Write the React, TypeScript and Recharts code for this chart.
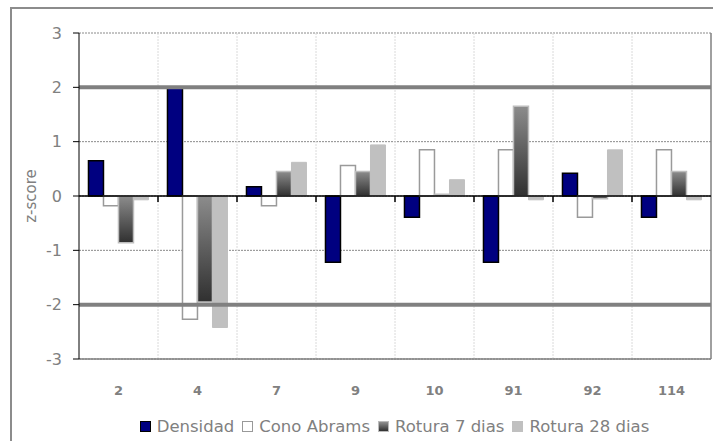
import {
  Bar,
  BarChart,
  CartesianGrid,
  Legend,
  ReferenceLine,
  XAxis,
  YAxis,
} from "recharts";

const categories = ["2", "4", "7", "9", "10", "91", "92", "114"];
const densidad = [0.65, 2.0, 0.17, -1.22, -0.39, -1.22, 0.42, -0.39];
const conoAbrams = [-0.18, -2.27, -0.18, 0.56, 0.85, 0.85, -0.39, 0.85];
const rotura7 = [-0.86, -1.95, 0.45, 0.45, 0.03, 1.65, -0.05, 0.45];
const rotura28 = [-0.07, -2.42, 0.62, 0.94, 0.3, -0.07, 0.85, -0.07];
const yTicks = [-3, -2, -1, 0, 1, 2, 3];
const limits = [-2, 2];

const FONT = "'DejaVu Sans', sans-serif";
const GREY = "#808080";

const rows = categories.map((name, i) => ({
  name,
  densidad: densidad[i],
  cono: conoAbrams[i],
  r7: rotura7[i],
  r28: rotura28[i],
}));

const legendItems = [
  { label: "Densidad", style: { background: "#000080", border: "1px solid #000" } },
  { label: "Cono Abrams", style: { background: "#fff", border: "1px solid #999" } },
  {
    label: "Rotura 7 dias",
    style: { background: "linear-gradient(#909090, #303030)", border: "1px solid #bbb" },
  },
  { label: "Rotura 28 dias", style: { background: "#c0c0c0", border: "1px solid #c0c0c0" } },
];

function LegendBox() {
  return (
    <div
      style={{
        display: "flex",
        justifyContent: "center",
        alignItems: "center",
        height: 22,
        fontFamily: FONT,
        fontSize: 16.5,
        color: GREY,
        paddingLeft: 86,
      }}
    >
      {legendItems.map((it) => (
        <span key={it.label} style={{ display: "flex", alignItems: "center", marginRight: 8 }}>
          <span
            style={{ width: 11, height: 11, boxSizing: "border-box", marginRight: 6, ...it.style }}
          />
          {it.label}
        </span>
      ))}
    </div>
  );
}

export default function App() {
  const inner = categories.slice(1);
  return (
    <div
      style={{
        position: "fixed",
        left: 0,
        top: 0,
        width: 713,
        height: 441,
        overflow: "hidden",
        background: "#fff",
      }}
    >
      <div
        style={{
          position: "absolute",
          left: 10,
          top: 7,
          width: 740,
          height: 480,
          border: "2px solid #8c8c8c",
        }}
      />
      <div style={{ position: "absolute", left: 0, top: 0 }}>
        <BarChart
          width={713}
          height={441}
          data={rows}
          margin={{ top: 33, right: 2, bottom: 4, left: 0 }}
          barCategoryGap="12%"
          barGap={0}
        >
          <defs>
            <linearGradient id="grad7" x1="0" y1="0" x2="0" y2="1">
              <stop offset="0%" stopColor="#8c8c8c" />
              <stop offset="100%" stopColor="#303030" />
            </linearGradient>
          </defs>
          <CartesianGrid vertical={false} stroke="#8a8a8a" strokeDasharray="2 1" />
          <XAxis
            dataKey="name"
            height={56}
            axisLine={false}
            tickLine={false}
            tickSize={0}
            tickMargin={27}
            tick={{ fill: GREY, fontSize: 13, fontWeight: "bold", fontFamily: FONT }}
          />
          <YAxis
            domain={[-3, 3]}
            ticks={yTicks}
            width={79}
            stroke="#000"
            tickSize={6}
            tickMargin={11}
            tick={{ fill: GREY, fontSize: 16, fontFamily: FONT }}
            label={{
              value: "z-score",
              angle: -90,
              position: "insideLeft",
              offset: 31,
              style: { textAnchor: "middle", fill: GREY, fontSize: 15, fontFamily: FONT },
            }}
          />
          {inner.map((c) => (
            <ReferenceLine
              key={"v" + c}
              x={c}
              position="start"
              stroke="#dadada"
              strokeDasharray="2 1"
            />
          ))}
          <ReferenceLine
            x={categories[categories.length - 1]}
            position="end"
            stroke={GREY}
            strokeWidth={1.5}
          />
          <ReferenceLine y={-3} stroke={GREY} strokeWidth={1.5} />
          <Bar dataKey="densidad" name="Densidad" fill="#000080" stroke="#000" strokeWidth={1.5} isAnimationActive={false} />
          <Bar dataKey="cono" name="Cono Abrams" fill="#fff" stroke="#9a9a9a" strokeWidth={1.5} isAnimationActive={false} />
          <Bar dataKey="r7" name="Rotura 7 dias" fill="url(#grad7)" stroke="#bdbdbd" strokeWidth={1.5} isAnimationActive={false} />
          <Bar dataKey="r28" name="Rotura 28 dias" fill="#c0c0c0" stroke="#c0c0c0" isAnimationActive={false} />
          {limits.map((v) => (
            <ReferenceLine key={"l" + v} y={v} stroke={GREY} strokeWidth={4} />
          ))}
          <ReferenceLine y={0} stroke="#000" strokeWidth={1.5} />
          {inner.map((c) => (
            <ReferenceLine
              key={"t" + c}
              position="start"
              segment={[
                { x: c, y: 0 },
                { x: c, y: -0.11 },
              ]}
              stroke="#000"
              strokeWidth={1.5}
            />
          ))}
          <Legend verticalAlign="bottom" content={() => <LegendBox />} />
        </BarChart>
      </div>
    </div>
  );
}
